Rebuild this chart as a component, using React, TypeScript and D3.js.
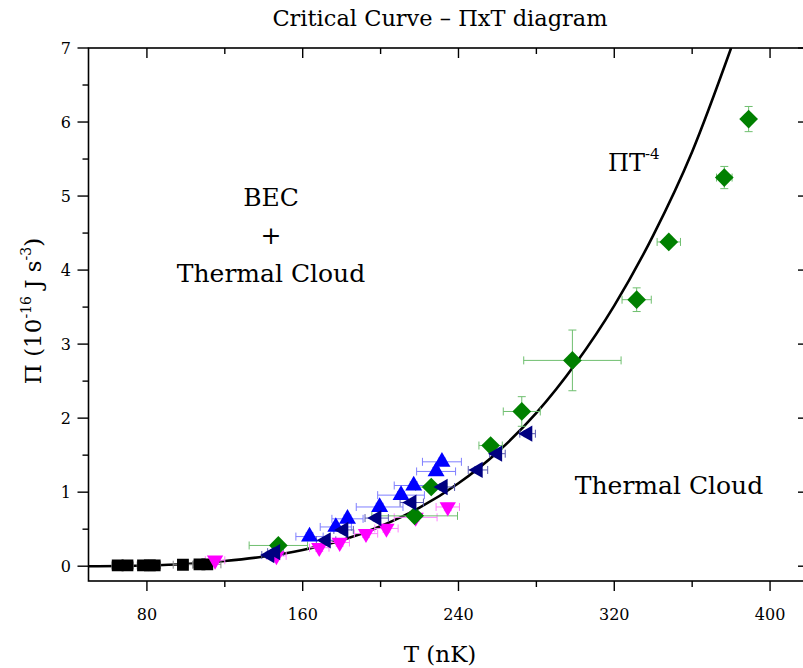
import React from "react";
import * as d3 from "d3";

// ---- data ----
const curveT = [50, 80, 100, 120, 140, 160, 180, 200, 220, 240, 260, 280, 300, 320, 340, 360, 380];
const curvePi = [0.0, 0.01, 0.03, 0.07, 0.13, 0.22, 0.35, 0.54, 0.79, 1.12, 1.54, 2.07, 2.73, 3.52, 4.47, 5.6, 7.0];

const blackT = [65, 70, 78, 81.5, 84, 98.5, 107, 111];
const blackPi = [0.01, 0.01, 0.01, 0.012, 0.012, 0.02, 0.025, 0.025];
const blackDT = [3, 3, 3, 3, 3, 5, 6, 7];
const blackDPi = [0, 0, 0, 0, 0, 0, 0, 0];

const magentaT = [115, 146.5, 168.5, 179, 192.5, 203, 218, 234.5];
const magentaPi = [0.08, 0.14, 0.25, 0.32, 0.44, 0.51, 0.66, 0.8];
const magentaDT = [5, 5, 5, 5, 6, 6, 11, 6];
const magentaDPi = [0.05, 0.05, 0.05, 0.05, 0.05, 0.05, 0.05, 0.05];

const navyT = [143, 146, 172, 181, 198, 216, 232, 250, 260, 275.5];
const navyPi = [0.15, 0.19, 0.35, 0.49, 0.65, 0.86, 1.07, 1.3, 1.52, 1.79];
const navyDT = [4, 4, 5, 5, 6, 6, 6, 5, 4, 4];
const navyDPi = [0.04, 0.04, 0.04, 0.04, 0.04, 0.04, 0.04, 0.04, 0.04, 0.04];

const blueT = [163.5, 177, 183, 199.5, 210.5, 217, 228.5, 231.5];
const bluePi = [0.4, 0.53, 0.64, 0.8, 0.96, 1.09, 1.28, 1.41];
const blueDT = [7, 8, 8, 12, 12, 10, 10, 10];
const blueDPi = [0.05, 0.05, 0.05, 0.05, 0.05, 0.05, 0.05, 0.05];

const greenT = [147.5, 217.5, 226, 256.5, 272.5, 298.5, 331.5, 348, 376.5, 389];
const greenPi = [0.28, 0.68, 1.07, 1.63, 2.09, 2.78, 3.6, 4.38, 5.25, 6.04];
const greenDT = [15, 22, 8, 6, 9.5, 25, 7.5, 6, 4, 2];
const greenDPi = [0.05, 0.05, 0.05, 0.05, 0.2, 0.41, 0.16, 0.06, 0.15, 0.17];

const xTicks = [80, 160, 240, 320, 400];
const xMinor = [120, 200, 280, 360];
const yTicks = [0, 1, 2, 3, 4, 5, 6, 7];
const yMinor = [0.5, 1.5, 2.5, 3.5, 4.5, 5.5, 6.5];

const W = 803;
const H = 668;
const FONT = "'DejaVu Serif', serif";

const x = d3.scaleLinear().domain([50, 420]).range([88.5, 809]);
const y = d3.scaleLinear().domain([-0.2, 7]).range([581, 48]);

type Series = {
  T: number[]; P: number[]; dT: number[]; dP: number[];
  color: string; barColor: string; symbol: d3.SymbolType; size: number; rotate: number;
};

const series: Series[] = [
  { T: blackT, P: blackPi, dT: blackDT, dP: blackDPi, color: "#000000", barColor: "#8a8a8a", symbol: d3.symbolSquare, size: 140, rotate: 0 },
  { T: magentaT, P: magentaPi, dT: magentaDT, dP: magentaDPi, color: "#ff00ff", barColor: "#ff80ff", symbol: d3.symbolTriangle, size: 115, rotate: 180 },
  { T: greenT, P: greenPi, dT: greenDT, dP: greenDPi, color: "#008000", barColor: "#6fbf6f", symbol: d3.symbolSquare, size: 175, rotate: 45 },
  { T: blueT, P: bluePi, dT: blueDT, dP: blueDPi, color: "#0000ff", barColor: "#7f7fff", symbol: d3.symbolTriangle, size: 125, rotate: 0 },
  { T: navyT, P: navyPi, dT: navyDT, dP: navyDPi, color: "#000080", barColor: "#5a5ab0", symbol: d3.symbolTriangle, size: 115, rotate: -90 },
];

function ErrorBars({ s }: { s: Series }) {
  const cap = 4;
  return (
    <g stroke={s.barColor} strokeWidth={1} fill="none">
      {s.T.map((t, i) => {
        const cx = x(t), cy = y(s.P[i]);
        const x0 = x(t - s.dT[i]), x1 = x(t + s.dT[i]);
        const y0 = y(s.P[i] - s.dP[i]), y1 = y(s.P[i] + s.dP[i]);
        return (
          <g key={i}>
            {s.dT[i] > 0 && (
              <>
                <line x1={x0} x2={x1} y1={cy} y2={cy} />
                <line x1={x0} x2={x0} y1={cy - cap} y2={cy + cap} />
                <line x1={x1} x2={x1} y1={cy - cap} y2={cy + cap} />
              </>
            )}
            {s.dP[i] > 0 && (
              <>
                <line x1={cx} x2={cx} y1={y0} y2={y1} />
                <line x1={cx - cap} x2={cx + cap} y1={y0} y2={y0} />
                <line x1={cx - cap} x2={cx + cap} y1={y1} y2={y1} />
              </>
            )}
          </g>
        );
      })}
    </g>
  );
}

function Markers({ s }: { s: Series }) {
  const path = d3.symbol().type(s.symbol).size(s.size)() as string;
  return (
    <g fill={s.color}>
      {s.T.map((t, i) => (
        <path key={i} d={path} transform={`translate(${x(t)},${y(s.P[i])}) rotate(${s.rotate})`} />
      ))}
    </g>
  );
}

export default function App() {
  const line = d3
    .line<number>()
    .x((_, i) => x(curveT[i]))
    .y((d) => y(d))
    .curve(d3.curveMonotoneX);
  const left = x.range()[0], right = x.range()[1];
  const top = y.range()[1], bottom = y.range()[0];

  return (
    <svg width={W} height={H} style={{ position: "absolute", left: 0, top: 0 }} fontFamily={FONT}>
      <rect x={0} y={0} width={W} height={H} fill="#ffffff" />
      <defs>
        <clipPath id="plot">
          <rect x={left} y={top} width={right - left} height={bottom - top} />
        </clipPath>
      </defs>

      {/* title */}
      <text x={440} y={26} textAnchor="middle" fontSize={22.5}>
        Critical Curve – ΠxT diagram
      </text>

      {/* frame */}
      <rect x={left} y={top} width={right - left} height={bottom - top} fill="none" stroke="#000" strokeWidth={1.6} />

      {/* ticks */}
      <g stroke="#000" strokeWidth={1.4}>
        {xTicks.map((t) => (
          <g key={"xt" + t}>
            <line x1={x(t)} x2={x(t)} y1={bottom} y2={bottom + 10} />
            <line x1={x(t)} x2={x(t)} y1={top} y2={top + 10} />
          </g>
        ))}
        {xMinor.map((t) => (
          <g key={"xm" + t}>
            <line x1={x(t)} x2={x(t)} y1={bottom} y2={bottom + 6} />
            <line x1={x(t)} x2={x(t)} y1={top} y2={top + 6} />
          </g>
        ))}
        {yTicks.map((v) => (
          <g key={"yt" + v}>
            <line x1={left - 11} x2={left} y1={y(v)} y2={y(v)} />
            <line x1={right - 11} x2={right} y1={y(v)} y2={y(v)} />
          </g>
        ))}
        {yMinor.map((v) => (
          <g key={"ym" + v}>
            <line x1={left - 6} x2={left} y1={y(v)} y2={y(v)} />
            <line x1={right - 6} x2={right} y1={y(v)} y2={y(v)} />
          </g>
        ))}
      </g>
      <g fontSize={16} textAnchor="middle">
        {xTicks.map((t) => (
          <text key={"xl" + t} x={x(t)} y={620}>{t}</text>
        ))}
      </g>
      <g fontSize={16} textAnchor="end">
        {yTicks.map((v) => (
          <text key={"yl" + v} x={71} y={y(v) + 6}>{v}</text>
        ))}
      </g>

      {/* axis titles */}
      <text x={440} y={662} textAnchor="middle" fontSize={23}>T (nK)</text>
      <text transform="translate(41,311) rotate(-90)" textAnchor="middle" fontSize={23}>
        Π (10<tspan fontSize={14} dy={-10}>-16</tspan><tspan dy={10}> J s</tspan><tspan fontSize={14} dy={-10}>-3</tspan><tspan dy={10}>)</tspan>
      </text>

      {/* annotations */}
      <g fontSize={25} textAnchor="middle">
        <text x={271} y={206}>BEC</text>
        <text x={271} y={244}>+</text>
        <text x={271} y={282}>Thermal Cloud</text>
        <text x={669} y={494}>Thermal Cloud</text>
      </g>
      <text x={608} y={171} fontSize={24}>
        ΠT<tspan fontSize={15} dy={-12}>-4</tspan>
      </text>

      <g clipPath="url(#plot)">
        <path d={line(curvePi) as string} fill="none" stroke="#000" strokeWidth={2.6} />
        {series.map((s, i) => (
          <ErrorBars key={"e" + i} s={s} />
        ))}
        {series.map((s, i) => (
          <Markers key={"m" + i} s={s} />
        ))}
      </g>
    </svg>
  );
}
